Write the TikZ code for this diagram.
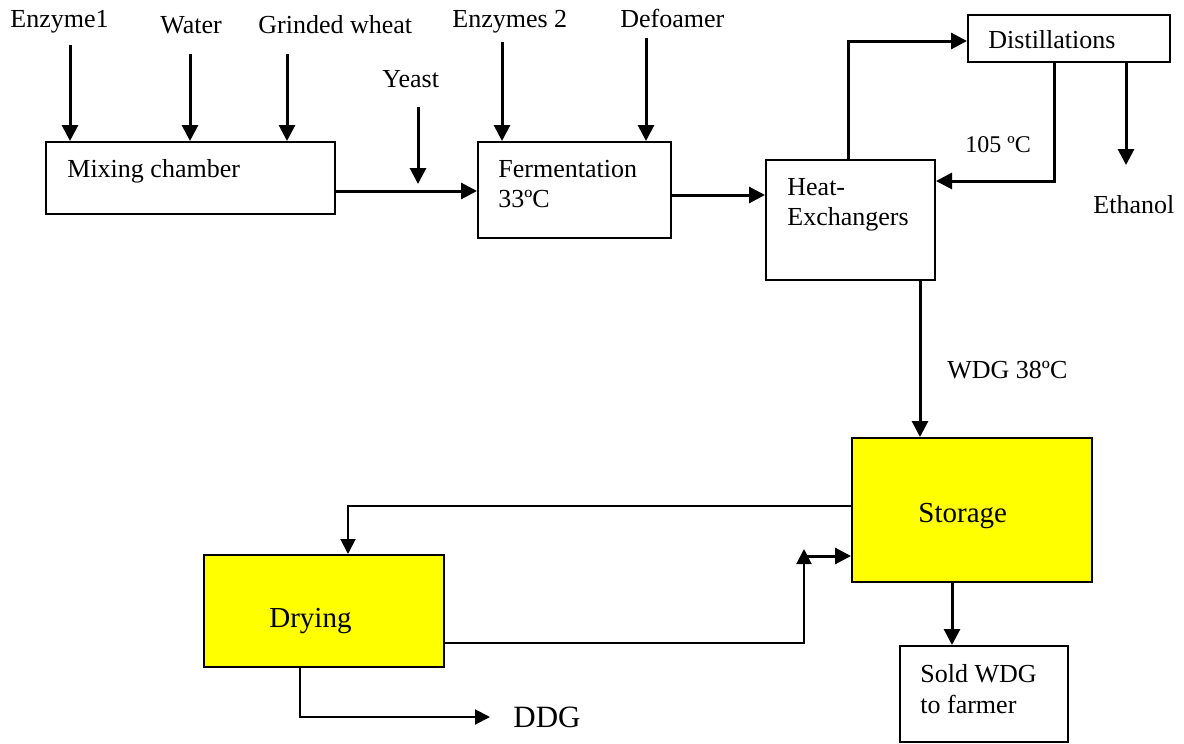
\documentclass[tikz,border=0pt]{standalone}
\usepackage{fontspec}
\setmainfont{Liberation Serif}
\usetikzlibrary{arrows.meta}
\definecolor{yel}{RGB}{255,255,0}
\begin{document}
\begin{tikzpicture}[x=0.5pt,y=-0.5pt,
  box/.style={draw=black,line width=1pt,inner sep=0pt},
  ybox/.style={box,fill=yel},
  lbl/.style={anchor=base west,inner sep=0pt,font=\fontsize{13}{15.6}\selectfont},
  big/.style={anchor=base west,inner sep=0pt,font=\fontsize{14.5}{17}\selectfont},
  arr/.style={line width=1.5pt,-{Triangle[length=8pt,width=8pt]}},
  thinarr/.style={line width=1pt,-{Triangle[length=7.5pt,width=7.5pt]}}]
\useasboundingbox (0,0) rectangle (1184,744);
% boxes
\node[box,minimum width=144.5pt,minimum height=36pt] (mix) at (190.5,178) {};
\node[box,minimum width=96.5pt,minimum height=48pt] (ferm) at (574.5,190) {};
\node[box,minimum width=84.5pt,minimum height=60pt] (hx) at (850.5,220) {};
\node[box,minimum width=101pt,minimum height=23.5pt] (dist) at (1069,38.5) {};
\node[ybox,minimum width=120pt,minimum height=72pt] (stor) at (972,510) {};
\node[ybox,minimum width=120pt,minimum height=56pt] (dry) at (324,611) {};
\node[box,minimum width=84pt,minimum height=48pt] (sold) at (984,694) {};
% texts
\node[lbl] (tE1) at (10,27) {Enzyme1};
\node[lbl] (tW) at (160,33) {Water};
\node[lbl] (tG) at (258,33) {Grinded wheat};
\node[lbl] (tY) at (382,87) {Yeast};
\node[lbl] (tE2) at (452,27) {Enzymes 2};
\node[lbl] (tDf) at (620,27) {Defoamer};
\node[lbl] (tM) at (67,177) {Mixing chamber};
\node[lbl] (tF1) at (498,177) {Fermentation};
\node[lbl] (tF2) at (498,207) {33ºC};
\node[lbl] (tH1) at (787,195) {Heat-};
\node[lbl] (tH2) at (787,225) {Exchangers};
\node[lbl] (tDi) at (988,48) {Distillations};
\node[lbl,font=\fontsize{12}{14}\selectfont] (t105) at (965,152) {105 ºC};
\node[lbl] (tEt) at (1093,213) {Ethanol};
\node[lbl] (tWDG) at (947,378) {WDG 38ºC};
\node[big] (tS) at (918,522) {Storage};
\node[big] (tDr) at (269,627) {Drying};
\node[big,font=\fontsize{15.5}{18}\selectfont] (tDDG) at (513,727) {DDG};
\node[lbl] (tS1) at (920,682) {Sold WDG};
\node[lbl] (tS2) at (920,713) {to farmer};
% coordinates
\coordinate (s1) at (70,45);
\coordinate (s2) at (190,54);
\coordinate (s3) at (287,54);
\coordinate (s4) at (418,107);
\coordinate (t4) at (418,184);
\coordinate (y1) at (0,191);
\coordinate (s5) at (502,42);
\coordinate (s6) at (646,38);
\coordinate (y2) at (0,195);
\coordinate (x1) at (848,0);
\coordinate (y3) at (0,41);
\coordinate (x2) at (1054,0);
\coordinate (y4) at (0,181);
\coordinate (x3) at (1126,0);
\coordinate (t5) at (1126,165);
\coordinate (x4) at (920,0);
\coordinate (y5) at (0,506);
\coordinate (x5) at (348,0);
\coordinate (y6) at (0,643);
\coordinate (t6) at (804,549);
\coordinate (s7) at (804,556);
\coordinate (x6) at (952,0);
\coordinate (x7) at (300,0);
\coordinate (t7) at (490,717);
% connectors
\draw[arr] (s1) -- (s1 |- mix.north);
\draw[arr] (s2) -- (s2 |- mix.north);
\draw[arr] (s3) -- (s3 |- mix.north);
\draw[arr] (s4) -- (t4);
\draw[arr] (mix.east |- y1) -- (ferm.west |- y1);
\draw[arr] (s5) -- (s5 |- ferm.north);
\draw[arr] (s6) -- (s6 |- ferm.north);
\draw[arr] (ferm.east |- y2) -- (hx.west |- y2);
\draw[arr] (x1 |- hx.north) |- (dist.west |- y3);
\draw[arr] (x2 |- dist.south) |- (hx.east |- y4);
\draw[arr] (x3 |- dist.south) -- (t5);
\draw[arr] (x4 |- hx.south) -- (x4 |- stor.north);
\draw[thinarr] (stor.west |- y5) -| (x5 |- dry.north);
\draw[thinarr] (dry.east |- y6) -| (t6);
\draw[arr] (s7) -- (stor.west |- s7);
\draw[arr] (x6 |- stor.south) -- (x6 |- sold.north);
\draw[thinarr] (x7 |- dry.south) |- (t7);
\end{tikzpicture}
\end{document}
